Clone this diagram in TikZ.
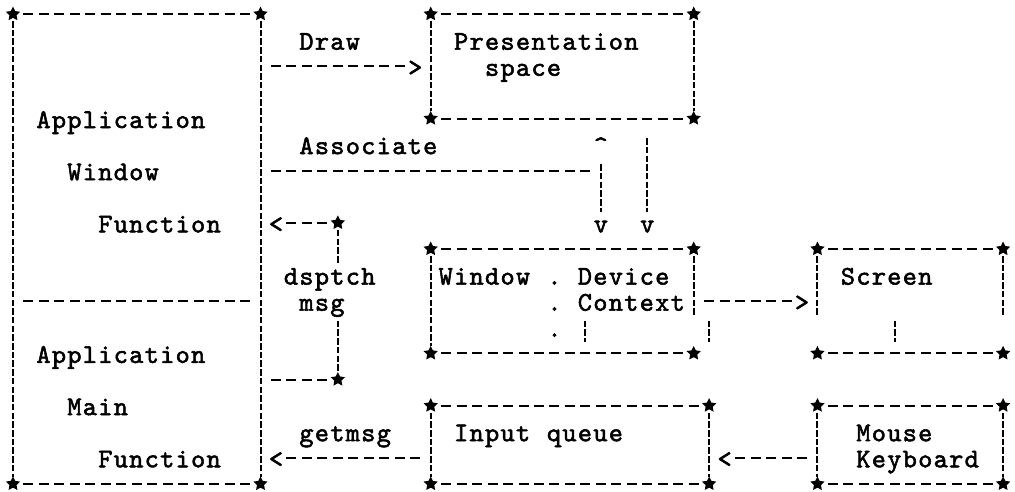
\documentclass[tikz,border=0pt]{standalone}
\usepackage{fontspec}
\newfontfamily\courfam{lmmono10-regular.otf}[LetterSpace=4.8,FakeBold=2]
\newcommand\asciifont{\courfam\fontsize{27pt}{28pt}\selectfont}
\usetikzlibrary{shapes.geometric}
\begin{document}
\begin{tikzpicture}[x=15.47pt,y=-26.1pt,
  hd/.style={line width=2pt,dash pattern=on 10pt off 5.47pt,shorten <=10.47pt,shorten >=10.47pt},
  vd/.style={line width=2pt,dash pattern=on 6.5pt off 2.2pt},
  vs/.style={vd,shorten <=7pt,shorten >=7pt},
  st/.style={star,star points=5,star point ratio=2,fill=black,draw=none,inner sep=0pt,minimum size=15pt},
  lbl/.style={font=\asciifont,inner sep=0pt,text height=19pt,text depth=0pt,anchor=west},
  gl/.style={lbl,anchor=center}]
\useasboundingbox (-0.840,-0.540) rectangle (64.77,18.31);

% ---------- stars (box corners) ----------
\node[st] (aTL) at (0,0) {};  \node[st] (aTR) at (16,0) {};
\node[st] (aBL) at (0,18) {}; \node[st] (aBR) at (16,18) {};
\node[st] (pTL) at (27,0) {}; \node[st] (pTR) at (44,0) {};
\node[st] (pBL) at (27,4) {}; \node[st] (pBR) at (44,4) {};
\node[st] (wTL) at (27,9) {}; \node[st] (wTR) at (44,9) {};
\node[st] (wBL) at (27,13) {}; \node[st] (wBR) at (44,13) {};
\node[st] (sTL) at (52,9) {}; \node[st] (sTR) at (64,9) {};
\node[st] (sBL) at (52,13) {}; \node[st] (sBR) at (64,13) {};
\node[st] (qTL) at (27,15) {}; \node[st] (qTR) at (45,15) {};
\node[st] (qBL) at (27,18) {}; \node[st] (qBR) at (45,18) {};
\node[st] (mTL) at (52,15) {}; \node[st] (mTR) at (64,15) {};
\node[st] (mBL) at (52,18) {}; \node[st] (mBR) at (64,18) {};
\node[st] (d1) at (21,8) {};  \node[st] (d2) at (21,14) {};

% ---------- coordinates on box sides ----------
\coordinate (aML) at (0,11);  \coordinate (aMR) at (16,11);
\coordinate (aR2) at (16,2);  \coordinate (aR6) at (16,6);
\coordinate (aR14) at (16,14);
\coordinate (c38) at (38,6);  \coordinate (pb41) at (41,4);
\coordinate (wR11) at (44,11); \coordinate (wRe) at (44,11.56);
\coordinate (w45a) at (45,11.75); \coordinate (w45b) at (45,12.56);
\coordinate (w37a) at (37,11.75); \coordinate (w37b) at (37,12.56);
\coordinate (sLe) at (52,11.56); \coordinate (sRe) at (64,11.56);
\coordinate (s57a) at (57,11.75); \coordinate (s57b) at (57,12.56);
\coordinate (d1e) at (21,9.56); \coordinate (d2s) at (21,11.75);
\coordinate (q17) at (27,17); \coordinate (m17) at (52,17);

% ---------- box edges ----------
\draw[hd] (aTL.center) -- (aTR.center); \draw[hd] (aBL.center) -- (aBR.center);
\draw[hd] (aML) -- (aMR);
\draw[vs] (aTL.center) -- (aBL.center); \draw[vs] (aTR.center) -- (aBR.center);
\draw[hd] (pTL.center) -- (pTR.center); \draw[hd] (pBL.center) -- (pBR.center);
\draw[vs] (pTL.center) -- (pBL.center); \draw[vs] (pTR.center) -- (pBR.center);
\draw[hd] (wTL.center) -- (wTR.center); \draw[hd] (wBL.center) -- (wBR.center);
\draw[vs] (wTL.center) -- (wBL.center); \draw[vd,shorten <=7pt] (wTR.center) -- (wRe);
\draw[vd] (w45a) -- (w45b); \draw[vd] (w37a) -- (w37b);
\draw[hd] (sTL.center) -- (sTR.center); \draw[hd] (sBL.center) -- (sBR.center);
\draw[vd,shorten <=7pt] (sTL.center) -- (sLe); \draw[vd,shorten <=7pt] (sTR.center) -- (sRe);
\draw[vd] (s57a) -- (s57b);
\draw[hd] (qTL.center) -- (qTR.center); \draw[hd] (qBL.center) -- (qBR.center);
\draw[vs] (qTL.center) -- (qBL.center); \draw[vs] (qTR.center) -- (qBR.center);
\draw[hd] (mTL.center) -- (mTR.center); \draw[hd] (mBL.center) -- (mBR.center);
\draw[vs] (mTL.center) -- (mBL.center); \draw[vs] (mTR.center) -- (mBR.center);

% ---------- arrow glyphs ----------
\node[gl] (gDraw) at (26,2) {>};
\node[gl] (gUp) at (38,5) {\^{}};
\node[gl] (gV1) at (38,8) {v};
\node[gl] (gV2) at (41,8) {v};
\node[gl] (gDsp) at (17,8) {<};
\node[gl] (gCtx) at (51,11) {>};
\node[gl] (gGet) at (17,17) {<};
\node[gl] (gKey) at (46,17) {<};

% ---------- connectors ----------
\draw[hd] (aR2) -- (gDraw.center);
\draw[hd] (aR6) -- (c38);
\draw[vd,shorten <=19.6pt,shorten >=10.5pt] (gUp.center) -- (gV1.center);
\draw[vd,shorten <=19.6pt,shorten >=10.5pt] (pb41) -- (gV2.center);
\draw[hd] (gDsp.center) -- (d1.center);
\draw[vd,shorten <=7pt] (d1.center) -- (d1e);
\draw[vd,shorten >=7pt] (d2s) -- (d2.center);
\draw[hd] (aR14) -- (d2.center);
\draw[hd] (gGet.center) -- (q17);
\draw[hd] (wR11) -- (gCtx.center);
\draw[hd] (gKey.center) -- (m17);

% ---------- texts ----------
\node[lbl] (tApp1) at (1.5,4) {Application};
\node[lbl] (tWin1) at (3.5,6) {Window};
\node[lbl] (tFun1) at (5.5,8) {Function};
\node[lbl] (tApp2) at (1.5,13) {Application};
\node[lbl] (tMain) at (3.5,15) {Main};
\node[lbl] (tFun2) at (5.5,17) {Function};
\node[lbl] (tDraw) at (18.5,1) {Draw};
\node[lbl] (tAssoc) at (18.5,5) {Associate};
\node[lbl] (tPres) at (28.5,1) {Presentation};
\node[lbl] (tSpace) at (30.5,2) {space};
\node[lbl] (tDsp) at (17.5,10) {dsptch};
\node[lbl] (tMsg) at (18.5,11) {msg};
\node[lbl] (tWin2) at (27.5,10) {Window};
\node[gl] (tDot1) at (35,10) {.};
\node[lbl] (tDev) at (36.5,10) {Device};
\node[gl] (tDot2) at (35,11) {.};
\node[lbl] (tCtx) at (36.5,11) {Context};
\node[gl] (tDot3) at (35,12) {.};
\node[lbl] (tScr) at (53.5,10) {Screen};
\node[lbl] (tGet) at (18.5,16) {getmsg};
\node[lbl] (tIn) at (28.5,16) {Input};
\node[lbl] (tQue) at (34.5,16) {queue};
\node[lbl] (tMouse) at (54.5,16) {Mouse};
\node[lbl] (tKey) at (54.5,17) {Keyboard};
\end{tikzpicture}
\end{document}
